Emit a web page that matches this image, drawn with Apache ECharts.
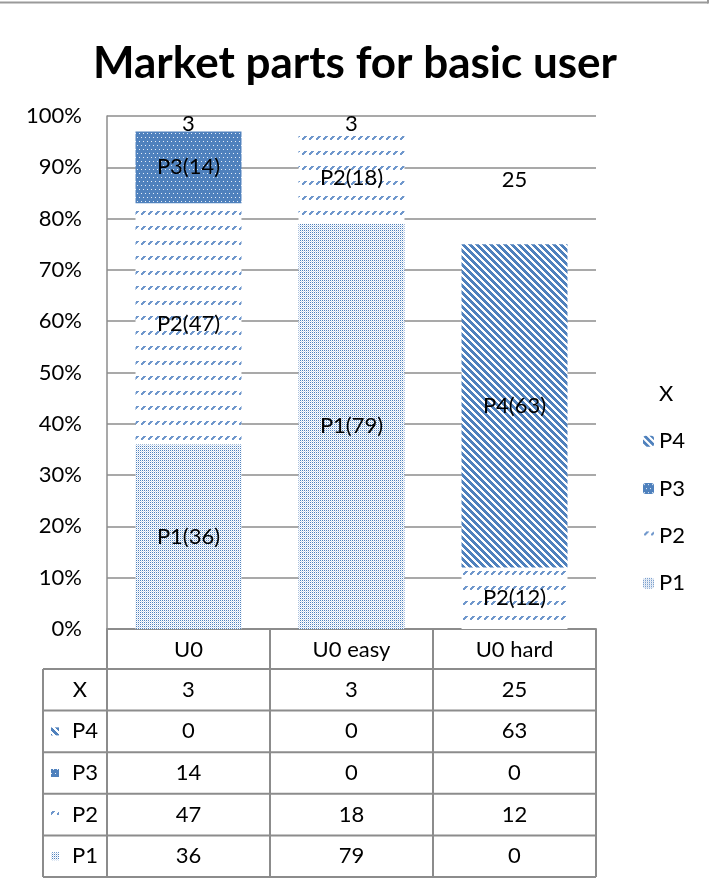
<!DOCTYPE html>
<html>
<head>
<meta charset="utf-8">
<script src="https://cdn.jsdelivr.net/npm/echarts@6/dist/echarts.min.js"></script>
<style>
html, body { margin: 0; padding: 0; background: #fff; }
#main { width: 710px; height: 887px; }
</style>
</head>
<body>
<div id="main"></div>
<script>
// data
const categories = ['U0', 'U0 easy', 'U0 hard'];
const p1 = [36, 79, 0];
const p2 = [47, 18, 12];
const p3 = [14, 0, 0];
const p4 = [0, 0, 63];
const xVals = [3, 3, 25];
const yMax = 100;
const yStep = 10;

const FONT = 'Lato';
const FS = 22;
const BLUE = '#4F81BD';
const GRID_GRAY = '#8c8c8c';

// pixel patterns, Excel-like fills
function makePattern(w, h, pick) {
  const c = document.createElement('canvas');
  c.width = w; c.height = h;
  const ctx = c.getContext('2d');
  for (let j = 0; j < h; j++) {
    for (let i = 0; i < w; i++) {
      ctx.fillStyle = pick(i, j);
      ctx.fillRect(i, j, 1, 1);
    }
  }
  return c;
}
const imgP1 = makePattern(2, 2, (i, j) => (i === 0 && j === 0) ? '#4f81bd' : (i === 1 && j === 1 ? '#d2deef' : '#ffffff'));
const imgP2 = makePattern(7, 15, (i, j) => {
  // short "/" dash per tile
  if (j >= 1 && j <= 4 && i + j >= 4 && i + j <= 6 && i >= 1 && i <= 5) return '#6f97cc';
  return '#ffffff';
});
const imgP3 = makePattern(8, 8, (i, j) => ((i === 1 && j === 1) || (i === 5 && j === 1) || (i === 3 && j === 5) || (i === 7 && j === 5)) ? '#e6edf7' : BLUE);
const imgP4 = makePattern(7, 7, (i, j) => (((i - j) % 7 + 7) % 7 < 4) ? BLUE : '#ffffff');

function fill(img) { return { image: img, repeat: 'repeat' }; }

let chart = echarts.init(document.getElementById('main'), null, { renderer: 'canvas' });

function segLabel(p) {
  return p.value ? p.seriesName + '(' + p.value + ')' : '';
}

function barSeries(name, data, img) {
  return {
    name: name,
    type: 'bar',
    stack: 'Total',
    barWidth: '65%',
    data: data,
    itemStyle: { color: fill(img) },
    label: {
      show: true,
      position: 'inside',
      formatter: segLabel,
      color: '#000',
      fontFamily: FONT,
      fontSize: FS
    },
    emphasis: { disabled: true }
  };
}

let option = {
  animation: false,
  backgroundColor: '#fff',
  title: {
    text: 'Market parts for basic user',
    left: 'center',
    top: 37,
    textStyle: { fontFamily: FONT, fontWeight: 'bold', fontSize: 44, color: '#000' }
  },
  legend: {
    orient: 'vertical',
    left: 638,
    top: 378,
    itemWidth: 11,
    itemHeight: 11,
    itemGap: 25.3,
    data: ['X', 'P4', 'P3', 'P2', 'P1'],
    textStyle: { fontFamily: FONT, fontSize: FS, lineHeight: 20, color: '#000' }
  },
  grid: {
    left: 107,
    right: 114,
    top: 116,
    bottom: 258,
    outerBoundsMode: 'none'
  },
  xAxis: {
    type: 'category',
    data: categories,
    axisLine: { show: true, lineStyle: { color: GRID_GRAY, width: 2 } },
    axisTick: { show: true, length: 40, lineStyle: { color: GRID_GRAY, width: 2 } },
    axisLabel: { margin: 10, fontFamily: FONT, fontSize: FS, color: '#000' }
  },
  yAxis: {
    type: 'value',
    min: 0,
    max: yMax,
    interval: yStep,
    axisLine: { show: true, lineStyle: { color: GRID_GRAY, width: 1.5 } },
    axisTick: { show: false },
    axisLabel: {
      formatter: '{value}%',
      margin: 25,
      fontFamily: FONT,
      fontSize: FS,
      color: '#000'
    },
    splitLine: { lineStyle: { color: GRID_GRAY, width: 1.5 } }
  },
  series: [
    barSeries('P1', p1, imgP1),
    barSeries('P2', p2, imgP2),
    barSeries('P3', p3, imgP3),
    barSeries('P4', p4, imgP4),
    {
      name: 'X',
      type: 'bar',
      stack: 'Total',
      barWidth: '65%',
      data: xVals,
      itemStyle: { color: 'rgba(0,0,0,0)' },
      label: {
        show: true,
        position: 'inside',
        color: '#000',
        fontFamily: FONT,
        fontSize: FS
      },
      emphasis: { disabled: true }
    }
  ]
};
option && chart.setOption(option);

// data table under the plot, columns taken from the category axis
function drawTable() {
  const centers = categories.map((c, i) => chart.convertToPixel({ xAxisIndex: 0 }, i));
  const step = centers[1] - centers[0];
  const colEdges = [centers[0] - step / 2].concat(centers.map(c => c + step / 2));
  const yBase = chart.convertToPixel({ yAxisIndex: 0 }, 0);
  const headH = 40;
  const rowH = 41.6;
  const leftX = 43;
  const rows = [
    { name: 'X', vals: xVals, img: null },
    { name: 'P4', vals: p4, img: imgP4 },
    { name: 'P3', vals: p3, img: imgP3 },
    { name: 'P2', vals: p2, img: imgP2 },
    { name: 'P1', vals: p1, img: imgP1 }
  ];
  const lineStyle = { stroke: GRID_GRAY, lineWidth: 2 };
  const font = FS + 'px ' + FONT;
  const els = [];
  const top = yBase + headH;
  const bottom = top + rows.length * rowH;
  const right = colEdges[colEdges.length - 1];
  // horizontal lines
  for (let k = 0; k <= rows.length; k++) {
    const y = top + k * rowH;
    els.push({ type: 'line', shape: { x1: leftX, y1: y, x2: right, y2: y }, style: lineStyle, silent: true });
  }
  // vertical lines
  [leftX].concat(colEdges).forEach(xv => {
    els.push({ type: 'line', shape: { x1: xv, y1: top, x2: xv, y2: bottom }, style: lineStyle, silent: true });
  });
  rows.forEach((r, k) => {
    const cy = top + k * rowH + rowH / 2;
    if (r.img) {
      els.push({ type: 'rect', shape: { x: 51, y: cy - 4, width: 8, height: 8 }, style: { fill: fill(r.img) }, silent: true });
      els.push({ type: 'text', x: 72, y: cy, style: { text: r.name, font: font, fill: '#000', verticalAlign: 'middle', align: 'left' }, silent: true });
    } else {
      els.push({ type: 'text', x: 80, y: cy, style: { text: r.name, font: font, fill: '#000', verticalAlign: 'middle', align: 'center' }, silent: true });
    }
    r.vals.forEach((v, i) => {
      els.push({ type: 'text', x: centers[i], y: cy, style: { text: String(v), font: font, fill: '#000', verticalAlign: 'middle', align: 'center' }, silent: true });
    });
  });
  // frame edge at the top of the picture
  els.push({ type: 'line', shape: { x1: 0, y1: 2.5, x2: 708, y2: 2.5 }, style: { stroke: '#9a9a9a', lineWidth: 2 }, silent: true });
  els.push({ type: 'line', shape: { x1: 708, y1: 0, x2: 708, y2: 3.5 }, style: { stroke: '#9a9a9a', lineWidth: 2 }, silent: true });
  chart.setOption({ graphic: { elements: els } });
}
drawTable();
</script>
</body>
</html>
